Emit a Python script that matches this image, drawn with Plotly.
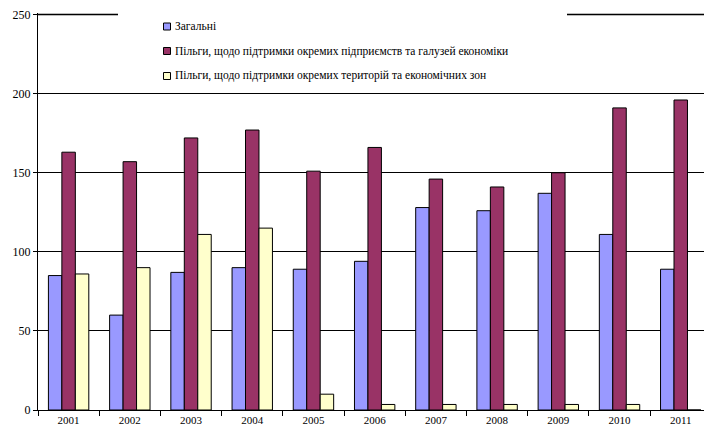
import plotly.graph_objects as go

years = ["2001", "2002", "2003", "2004", "2005", "2006",
         "2007", "2008", "2009", "2010", "2011"]
general = [85, 60, 87, 90, 89, 94, 128, 126, 137, 111, 89]
enterprise = [163, 157, 172, 177, 151, 166, 146, 141, 150, 191, 196]
territory = [86, 90, 111, 115, 10, 3.5, 3.5, 3.5, 3.5, 3.5, 0]

names = [
    "Загальні",
    "Пільги, щодо підтримки окремих підприємств та галузей економіки",
    "Пільги, щодо підтримки окремих територій та економічних зон",
]
colors = ["#9999FF", "#993366", "#FFFFCC"]
series = [general, enterprise, territory]

W, H = 704, 431
L, R, T, B = 38, 0, 13, 21
PW, PH = W - L - R, H - T - B
FONT = "Times New Roman, Tinos, Liberation Serif, DejaVu Serif"
YMAX = 251


def px(x):
    return (x - L) / PW


def py(y):
    return (H - B - y) / PH


fig = go.Figure()
for name, vals, col in zip(names, series, colors):
    fig.add_trace(go.Bar(
        x=years, y=vals, name=name,
        marker=dict(color=col, line=dict(color="#000000", width=1)),
        showlegend=False,
    ))

# top gridline at 250, then the legend block with a white background over it
shapes = [
    dict(type="line", xref="paper", yref="y", x0=0, x1=1, y0=250, y1=250,
         line=dict(color="#777777", width=2), layer="below"),
    dict(type="rect", xref="paper", yref="paper",
         x0=px(118), x1=px(567), y0=py(88), y1=1.02,
         fillcolor="white", line=dict(width=0), layer="above"),
]
annotations = []
rows_y = [26.5, 51, 76]
for name, col, yy in zip(names, colors, rows_y):
    shapes.append(dict(type="rect", xref="paper", yref="paper",
                       x0=px(163.5), x1=px(170.5), y0=py(yy + 3.5), y1=py(yy - 3.5),
                       fillcolor=col, line=dict(color="#000000", width=1),
                       layer="above"))
    annotations.append(dict(text=name, xref="paper", yref="paper",
                            x=px(173), y=py(yy), xanchor="left", yanchor="middle",
                            showarrow=False,
                            font=dict(family=FONT, size=11.5, color="#000000")))

fig.update_layout(
    width=W, height=H,
    margin=dict(l=L, r=R, t=T, b=B),
    paper_bgcolor="white", plot_bgcolor="white",
    barmode="group", bargap=0.34, bargroupgap=0,
    font=dict(family=FONT, color="#000000"),
    shapes=shapes, annotations=annotations,
    xaxis=dict(type="category", range=[-0.5, 10.38],
               showline=True, linecolor="#000000", linewidth=1,
               ticks="outside", tickson="boundaries", ticklen=5,
               tickcolor="#000000", showgrid=False,
               tickfont=dict(family=FONT, size=11, color="#000000")),
    yaxis=dict(range=[0, YMAX], tickvals=[0, 50, 100, 150, 200, 250],
               showline=True, linecolor="#000000", linewidth=1,
               ticks="outside", ticklen=4, tickcolor="#000000",
               showgrid=True, gridcolor="#000000", gridwidth=1,
               zeroline=False,
               tickfont=dict(family=FONT, size=12, color="#000000")),
)

fig.write_html("out.html")
